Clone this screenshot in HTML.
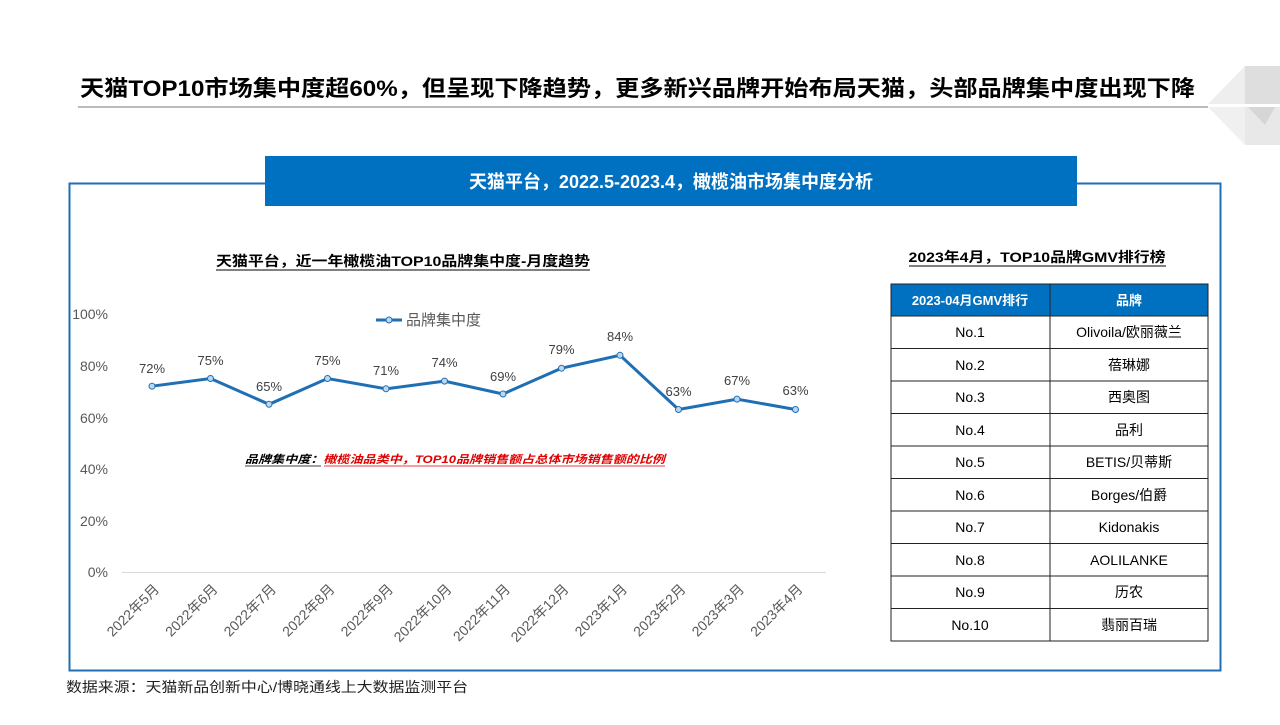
<!DOCTYPE html>
<html><head><meta charset="utf-8"><style>
body{margin:0;width:1280px;height:720px;background:#fff;overflow:hidden;font-family:"Liberation Sans","Noto Sans CJK SC",sans-serif}
</style></head><body>
<svg width="1280" height="720" xmlns="http://www.w3.org/2000/svg" font-family="Liberation Sans, Noto Sans CJK SC, sans-serif">
<text x="80" y="96" font-size="22" font-weight="bold" fill="#000" textLength="1115" lengthAdjust="spacingAndGlyphs">天猫TOP10市场集中度超60%，但呈现下降趋势，更多新兴品牌开始布局天猫，头部品牌集中度出现下降</text>
<line x1="78" y1="107" x2="1208" y2="107" stroke="#777" stroke-width="1"/>
<!-- logo -->
<polygon points="1245,66 1245,104 1208,104" fill="#eeeeee"/>
<polygon points="1245,66 1280,66 1280,104 1245,104" fill="#dedede"/>
<polygon points="1208,107 1245,107 1245,145" fill="#f0f0f0"/>
<polygon points="1245,107 1280,107 1280,145 1245,145" fill="#e8e8e8"/>
<polygon points="1248,107 1275,107 1265,125" fill="#d6d6d6"/>
<!-- frame -->
<rect x="69.5" y="183.5" width="1151" height="487" fill="none" stroke="#1f6fb5" stroke-width="2"/>
<rect x="265" y="156" width="812" height="50" fill="#0070c0"/>
<text x="671" y="188" font-size="18" font-weight="bold" fill="#fff" text-anchor="middle">天猫平台，2022.5-2023.4，橄榄油市场集中度分析</text>
<!-- chart title -->
<text x="403" y="266" font-size="14" font-weight="bold" text-anchor="middle" textLength="374" lengthAdjust="spacingAndGlyphs">天猫平台，近一年橄榄油TOP10品牌集中度-月度趋势</text>
<line x1="216" y1="270" x2="590" y2="270" stroke="#000" stroke-width="1"/>
<!-- y axis -->
<g font-size="14" fill="#595959" text-anchor="end">
<text x="108" y="319">100%</text><text x="108" y="371">80%</text><text x="108" y="423">60%</text>
<text x="108" y="474">40%</text><text x="108" y="526">20%</text><text x="108" y="577">0%</text>
</g>
<line x1="122" y1="572.5" x2="826" y2="572.5" stroke="#d9d9d9"/>
<!-- legend -->
<line x1="376" y1="320" x2="402" y2="320" stroke="#1f6fb5" stroke-width="3"/>
<circle cx="389" cy="320" r="3" fill="#bdd7ee" stroke="#1f6fb5"/>
<text x="406" y="325" font-size="15" fill="#595959">品牌集中度</text>
<polyline fill="none" stroke="#1f6fb5" stroke-width="3" points="152,386.2 210.5,378.5 269,404.3 327.5,378.5 386,388.8 444.5,381.1 503,394 561.5,368.2 620,355.3 678.5,409.5 737,399.1 795.5,409.5"/>
<g fill="#bdd7ee" stroke="#1f6fb5" stroke-width="1">
<circle cx="152" cy="386.2" r="3"/><circle cx="210.5" cy="378.5" r="3"/><circle cx="269" cy="404.3" r="3"/><circle cx="327.5" cy="378.5" r="3"/><circle cx="386" cy="388.8" r="3"/><circle cx="444.5" cy="381.1" r="3"/><circle cx="503" cy="394" r="3"/><circle cx="561.5" cy="368.2" r="3"/><circle cx="620" cy="355.3" r="3"/><circle cx="678.5" cy="409.5" r="3"/><circle cx="737" cy="399.1" r="3"/><circle cx="795.5" cy="409.5" r="3"/>
</g>
<g font-size="13" fill="#404040" text-anchor="middle">
<text x="152" y="373">72%</text><text x="210.5" y="365">75%</text><text x="269" y="391">65%</text><text x="327.5" y="365">75%</text><text x="386" y="375">71%</text><text x="444.5" y="367">74%</text><text x="503" y="381">69%</text><text x="561.5" y="354">79%</text><text x="620" y="341">84%</text><text x="678.5" y="396">63%</text><text x="737" y="385">67%</text><text x="795.5" y="395">63%</text>
</g>
<text x="245" y="463" font-size="11" font-style="italic" font-weight="bold" textLength="420" lengthAdjust="spacingAndGlyphs"><tspan fill="#000">品牌集中度：</tspan><tspan fill="#e00000">橄榄油品类中，TOP10品牌销售额占总体市场销售额的比例</tspan></text>
<line x1="245" y1="466" x2="321" y2="466" stroke="#000" stroke-width="0.8"/>
<line x1="324" y1="466" x2="665" y2="466" stroke="#e00000" stroke-width="0.8"/>
<g font-size="14" fill="#595959" text-anchor="end">
<text transform="translate(160,590) rotate(-45)">2022年5月</text>
<text transform="translate(218.5,590) rotate(-45)">2022年6月</text>
<text transform="translate(277,590) rotate(-45)">2022年7月</text>
<text transform="translate(335.5,590) rotate(-45)">2022年8月</text>
<text transform="translate(394,590) rotate(-45)">2022年9月</text>
<text transform="translate(452.5,590) rotate(-45)">2022年10月</text>
<text transform="translate(511,590) rotate(-45)">2022年11月</text>
<text transform="translate(569.5,590) rotate(-45)">2022年12月</text>
<text transform="translate(628,590) rotate(-45)">2023年1月</text>
<text transform="translate(686.5,590) rotate(-45)">2023年2月</text>
<text transform="translate(745,590) rotate(-45)">2023年3月</text>
<text transform="translate(803.5,590) rotate(-45)">2023年4月</text>
</g>
<!-- table -->
<text x="1037" y="262" font-size="14" font-weight="bold" text-anchor="middle" textLength="257" lengthAdjust="spacingAndGlyphs">2023年4月，TOP10品牌GMV排行榜</text>
<line x1="909" y1="266" x2="1166" y2="266" stroke="#000"/>
<rect x="891" y="284" width="317" height="32" fill="#0070c0"/>
<text x="970" y="305" font-size="13" font-weight="bold" fill="#fff" text-anchor="middle">2023-04月GMV排行</text>
<text x="1129" y="305" font-size="13" font-weight="bold" fill="#fff" text-anchor="middle">品牌</text>
<rect x="891" y="284" width="317" height="357" fill="none" stroke="#222"/>
<line x1="1050" y1="284" x2="1050" y2="641" stroke="#222"/>
<g stroke="#222">
<line x1="891" y1="316" x2="1208" y2="316"/><line x1="891" y1="348.5" x2="1208" y2="348.5"/><line x1="891" y1="381" x2="1208" y2="381"/><line x1="891" y1="413.5" x2="1208" y2="413.5"/><line x1="891" y1="446" x2="1208" y2="446"/><line x1="891" y1="478.5" x2="1208" y2="478.5"/><line x1="891" y1="511" x2="1208" y2="511"/><line x1="891" y1="543.5" x2="1208" y2="543.5"/><line x1="891" y1="576" x2="1208" y2="576"/><line x1="891" y1="608.5" x2="1208" y2="608.5"/>
</g>
<g font-size="14" fill="#000" text-anchor="middle">
<text x="970" y="337">No.1</text><text x="1129" y="337">Olivoila/欧丽薇兰</text>
<text x="970" y="370">No.2</text><text x="1129" y="370">蓓琳娜</text>
<text x="970" y="402">No.3</text><text x="1129" y="402">西奥图</text>
<text x="970" y="435">No.4</text><text x="1129" y="435">品利</text>
<text x="970" y="467">No.5</text><text x="1129" y="467">BETIS/贝蒂斯</text>
<text x="970" y="500">No.6</text><text x="1129" y="500">Borges/伯爵</text>
<text x="970" y="532">No.7</text><text x="1129" y="532">Kidonakis</text>
<text x="970" y="565">No.8</text><text x="1129" y="565">AOLILANKE</text>
<text x="970" y="597">No.9</text><text x="1129" y="597">历农</text>
<text x="970" y="630">No.10</text><text x="1129" y="630">翡丽百瑞</text>
</g>
<text x="66" y="692" font-size="14" fill="#222" textLength="402" lengthAdjust="spacingAndGlyphs">数据来源：天猫新品创新中心/博晓通线上大数据监测平台</text>
</svg>
</body></html>
